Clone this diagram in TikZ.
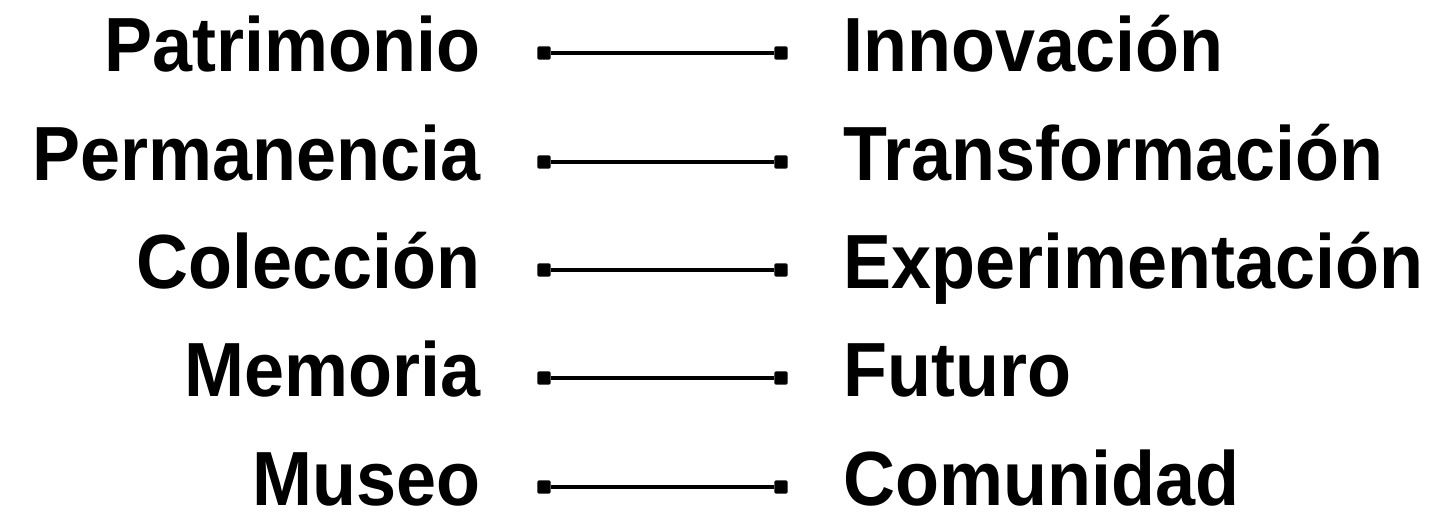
\documentclass[tikz,border=0pt]{standalone}
\usepackage{fontspec}
\newfontfamily\wordfont[FakeStretch=0.937]{Liberation Sans}

\begin{document}
\begin{tikzpicture}[x=1pt, y=-1pt,
		word/.style={inner sep=0pt, font=\wordfont\bfseries\fontsize{76.8}{80}\selectfont},
		dot/.style={fill=black, minimum size=13.4pt, inner sep=0pt, rounded corners=2pt},
		link/.style={line width=4.5pt}]
			\useasboundingbox (0,0) rectangle (1449,514);
			% left column
			\node (old1) [word, anchor=base east] at (481,71) {Patrimonio};
			\node (old2) [word, anchor=base east] at (481,180) {Permanencia};
			\node (old3) [word, anchor=base east] at (481,288) {Colección};
			\node (old4) [word, anchor=base east] at (481,396) {Memoria};
			\node (old5) [word, anchor=base east] at (481,505) {Museo};
			% right column
			\node (new1) [word, anchor=base west] at (843,71) {Innovación};
			\node (new2) [word, anchor=base west] at (843,180) {Transformación};
			\node (new3) [word, anchor=base west] at (843,288) {Experimentación};
			\node (new4) [word, anchor=base west] at (843,396) {Futuro};
			\node (new5) [word, anchor=base west] at (843,505) {Comunidad};
			
			\node (l1) [dot] at (544,53) {};
			\node (r1) [dot] at (781,53) {};
			\node (l2) [dot] at (544,162) {};
			\node (r2) [dot] at (781,162) {};
			\node (l3) [dot] at (544,270) {};
			\node (r3) [dot] at (781,270) {};
			\node (l4) [dot] at (544,378) {};
			\node (r4) [dot] at (781,378) {};
			\node (l5) [dot] at (544,487) {};
			\node (r5) [dot] at (781,487) {};
			\draw [link] (l1) -- (r1);
			\draw [link] (l2) -- (r2);
			\draw [link] (l3) -- (r3);
			\draw [link] (l4) -- (r4);
			\draw [link] (l5) -- (r5);
		\end{tikzpicture}
\end{document}
